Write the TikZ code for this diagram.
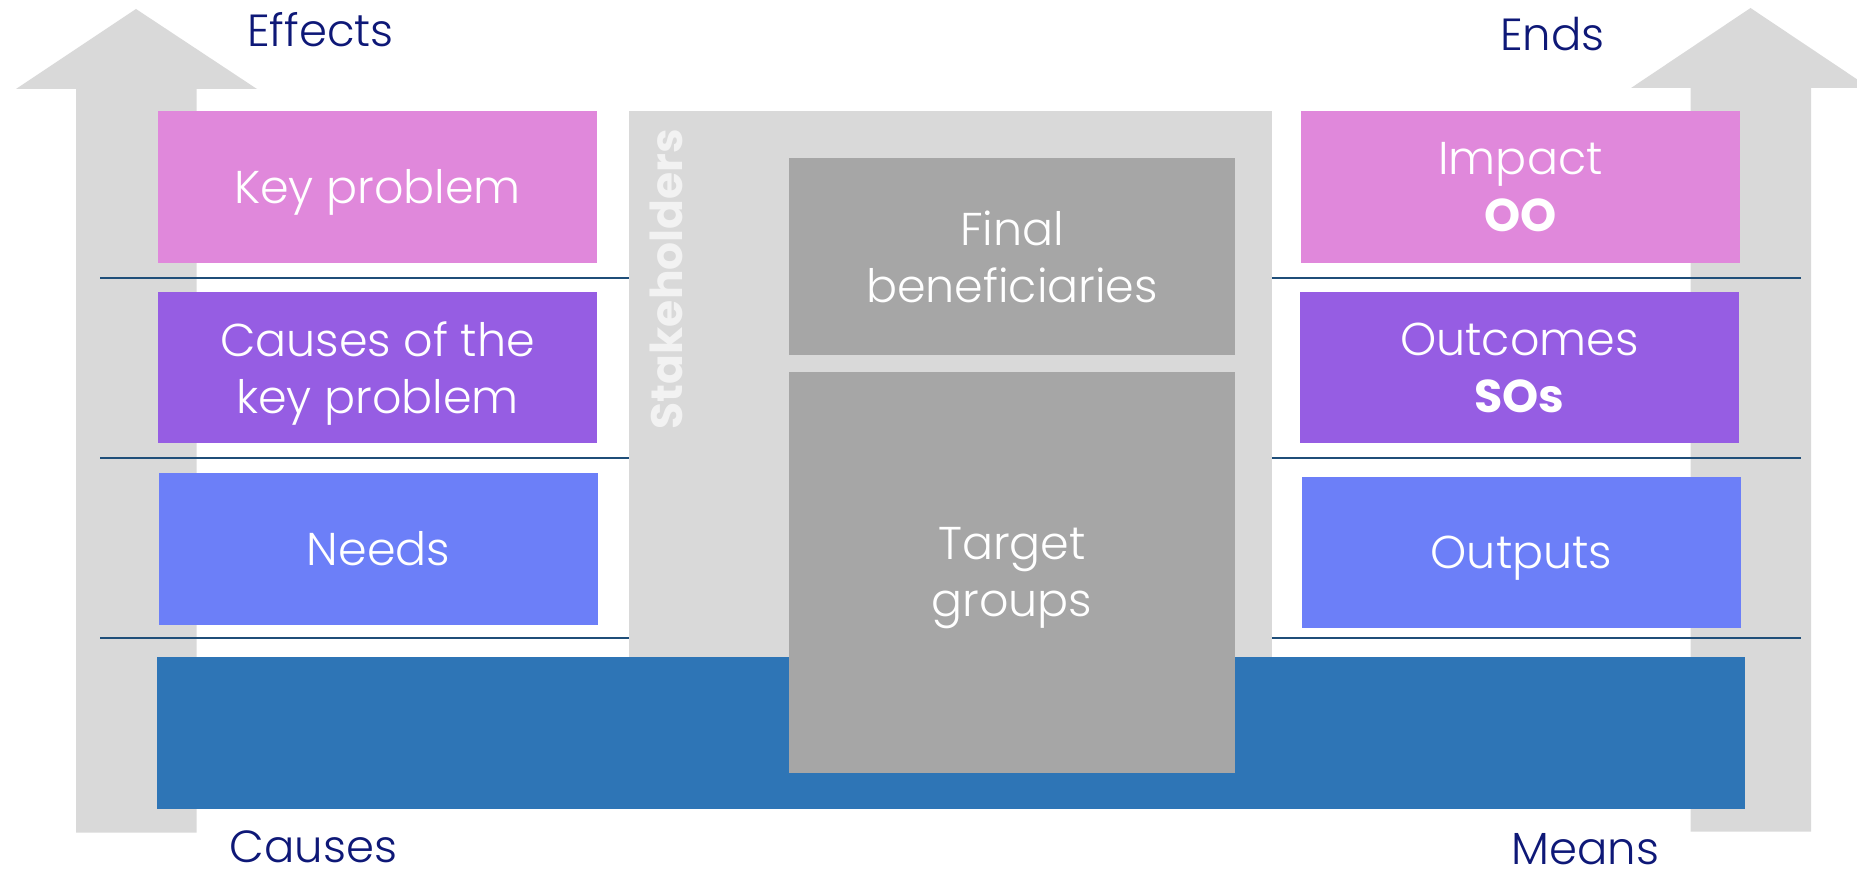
\documentclass[tikz,border=0pt]{standalone}
\usepackage{fontspec}
\setmainfont{Poppins Light}[BoldFont=Poppins Bold]
\definecolor{cpink}{HTML}{E088DB}
\definecolor{cpurple}{HTML}{965DE3}
\definecolor{cneeds}{HTML}{6C7FF8}
\definecolor{cblue}{HTML}{2E75B6}
\definecolor{clight}{HTML}{D9D9D9}
\definecolor{cdark}{HTML}{A6A6A6}
\definecolor{cline}{HTML}{1F4E79}
\definecolor{cnavy}{HTML}{0E1877}
\definecolor{cstake}{HTML}{F2F2F2}
\tikzset{
  boxstyle/.style={fill=#1, draw=none, inner sep=0pt, text=white, align=center,
    text depth=0pt, font=\fontsize{46}{57}\selectfont},
  sidelabel/.style={text=cnavy, inner sep=0pt, anchor=base, text depth=0pt,
    font=\fontsize{45}{50}\selectfont},
  rowline/.style={draw=cline, line width=2pt},
  bigarrow/.style={fill=clight, draw=none}
}
\begin{document}
\begin{tikzpicture}[x=1pt,y=-1pt]
\useasboundingbox (0,0) rectangle (1857,869);
\clip (0,0) rectangle (1857,869);
% big arrows
\fill[bigarrow] (76,832.7) -- (76,89) -- (16,89) -- (136,9) -- (257,89) -- (196.5,89) -- (196.5,832.7) -- cycle;
\fill[bigarrow] (1690.5,831.7) -- (1690.5,88) -- (1631,88) -- (1750.5,8) -- (1870,88) -- (1811,88) -- (1811,831.7) -- cycle;
% row lines
\coordinate (l1a) at (100,278); \coordinate (l1b) at (629,278);
\coordinate (l2a) at (100,457.5); \coordinate (l2b) at (629,457.5);
\coordinate (l3a) at (100,638); \coordinate (l3b) at (629,638);
\coordinate (r1a) at (1272,278); \coordinate (r1b) at (1801,278);
\coordinate (r2a) at (1272,457.5); \coordinate (r2b) at (1801,457.5);
\coordinate (r3a) at (1272,638); \coordinate (r3b) at (1801,638);
\draw[rowline] (l1a) -- (l1b);
\draw[rowline] (l2a) -- (l2b);
\draw[rowline] (l3a) -- (l3b);
\draw[rowline] (r1a) -- (r1b);
\draw[rowline] (r2a) -- (r2b);
\draw[rowline] (r3a) -- (r3b);
% left boxes
\node[boxstyle=cpink, minimum width=439pt, minimum height=151.7pt] (keyp) at (377.5,186.85) {Key problem};
\node[boxstyle=cpurple, minimum width=439pt, minimum height=150.7pt] (causesbox) at (377.5,367.35) {Causes of the\\key problem};
\node[boxstyle=cneeds, minimum width=439pt, minimum height=151.7pt] (needs) at (378.5,548.85) {Needs};
% right boxes
\node[boxstyle=cpink, minimum width=439pt, minimum height=151.7pt] (impact) at (1520.5,186.85) {Impact\\\textbf{OO}};
\node[boxstyle=cpurple, minimum width=439pt, minimum height=150.7pt] (outcomes) at (1519.5,367.35) {Outcomes\\\textbf{SOs}};
\node[boxstyle=cneeds, minimum width=439pt, minimum height=150.7pt] (outputs) at (1521.5,552.35) {Outputs};
% stakeholders area
\node[fill=clight, draw=none, inner sep=0pt, minimum width=643pt, minimum height=546pt] (stake) at (950.5,384) {};
\node[text=cstake, rotate=90, inner sep=0pt, font=\bfseries\fontsize{44}{46}\selectfont] (stakelabel) at (666,279) {Stakeholders};
\node[fill=cblue, draw=none, inner sep=0pt, minimum width=1588pt, minimum height=151.7pt] (bluebar) at (951,732.85) {};
\node[boxstyle=cdark, minimum width=446pt, minimum height=197pt] (finalb) at (1012,256.5) {Final\\beneficiaries};
\node[boxstyle=cdark, minimum width=446pt, minimum height=400.7pt] (target) at (1012,572.35) {Target\\groups};
% side labels
\node[sidelabel] (effects) at (320.5,46.7) {Effects};
\node[sidelabel] (ends) at (1552.5,51) {Ends};
\node[sidelabel] (causes) at (313.5,862.3) {Causes};
\node[sidelabel] (means) at (1585.5,864) {Means};
\end{tikzpicture}
\end{document}
